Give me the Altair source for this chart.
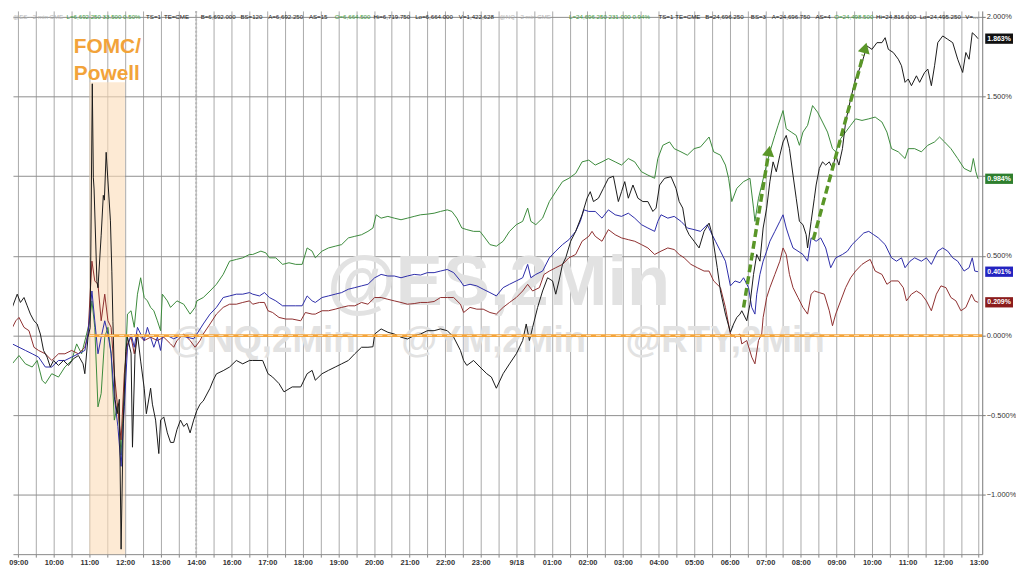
import json
import math
import altair as alt
import pandas as pd

W, H = 976, 547
X_DOMAIN = [-0.15, 27.10]
Y_DOMAIN = [-1.371, 2.037]

TIME_LABELS = ["09:00", "10:00", "11:00", "12:00", "13:00", "14:00", "16:00", "17:00",
               "18:00", "19:00", "20:00", "21:00", "22:00", "23:00", "9/18", "01:00",
               "02:00", "03:00", "04:00", "05:00", "06:00", "07:00", "08:00", "09:00",
               "10:00", "11:00", "12:00", "13:00"]
Y_TICKS = [-1.0, -0.5, 0.0, 0.5, 1.0, 1.5, 2.0]

# (session hour index, % change)
BLACK = [(-0.35, 0.135), (-0.26, 0.208), (-0.17, 0.177), (-0.03, 0.26), (0.06, 0.208), (0.16, 0.239),
         (0.25, 0.187), (0.34, 0.135), (0.44, 0.093), (0.53, 0.073), (0.62, 0.010), (0.71, -0.093),
         (0.81, -0.135), (0.90, -0.197), (0.99, -0.156), (1.13, -0.187), (1.27, -0.156), (1.41, -0.187),
         (1.55, -0.145), (1.69, -0.125), (1.82, -0.177), (1.87, -0.239), (1.96, -0.010),
         (2.02, 0.05), (2.08, 1.58), (2.11, 0.99), (2.13, 0.92), (2.21, 0.34), (2.24, 0.30), (2.33, 0.63),
         (2.39, 0.88), (2.42, 0.85), (2.47, 1.15), (2.52, 0.97), (2.59, 0.72), (2.63, 0.40), (2.66, 0.09),
         (2.72, -0.40), (2.78, -0.49), (2.84, -0.40), (2.89, -1.34), (2.95, -0.55), (3.02, -0.10),
         (3.07, -0.01), (3.17, -0.11), (3.21, -0.70), (3.28, -0.12), (3.35, 0.01), (3.44, -0.16),
         (3.54, -0.33), (3.60, -0.49), (3.72, -0.33), (3.77, -0.43), (3.86, -0.53), (3.95, -0.74),
         (4.00, -0.53), (4.09, -0.51), (4.19, -0.61), (4.28, -0.67), (4.37, -0.67), (4.46, -0.59),
         (4.56, -0.53), (4.65, -0.57), (4.74, -0.55), (4.83, -0.61), (4.93, -0.53), (5.02, -0.47),
         (5.11, -0.43), (5.20, -0.41), (5.39, -0.33), (5.48, -0.28), (5.57, -0.24), (5.76, -0.22),
         (5.94, -0.197), (6.13, -0.156), (6.31, -0.177), (6.50, -0.156), (6.59, -0.156), (6.87, -0.156),
         (7.02, -0.239), (7.15, -0.26), (7.33, -0.301), (7.47, -0.353), (7.70, -0.322), (7.94, -0.322),
         (8.12, -0.239), (8.26, -0.218), (8.35, -0.280), (8.54, -0.239), (8.72, -0.218), (8.91, -0.197),
         (9.09, -0.177), (9.28, -0.156), (9.46, -0.114), (9.65, -0.073), (9.83, -0.073), (9.97, -0.07),
         (10.02, 0.01), (10.20, 0.042), (10.39, 0.021), (10.57, 0.01), (10.76, -0.01), (10.94, -0.021),
         (11.13, 0.0), (11.31, 0.01), (11.50, 0.031), (11.69, 0.031), (11.87, 0.042), (12.06, 0.031),
         (12.24, -0.01), (12.43, -0.093), (12.52, -0.156), (12.61, -0.187), (12.80, -0.156),
         (12.98, -0.197), (13.17, -0.239), (13.30, -0.26), (13.44, -0.33), (13.63, -0.239),
         (13.81, -0.177), (14.00, -0.114), (14.18, -0.031), (14.28, 0.073), (14.37, -0.031),
         (14.46, 0.052), (14.60, 0.177), (14.74, 0.28), (14.88, 0.363), (15.02, 0.343), (15.11, 0.26),
         (15.20, 0.343), (15.30, 0.447), (15.39, 0.488), (15.53, 0.592), (15.67, 0.654), (15.85, 0.758),
         (15.99, 0.862), (16.08, 0.903), (16.17, 0.841), (16.31, 0.862), (16.45, 0.924), (16.59, 0.987),
         (16.73, 1.0), (16.87, 0.841), (16.96, 0.903), (17.05, 0.966), (17.15, 0.862), (17.28, 0.945),
         (17.42, 0.862), (17.56, 0.841), (17.70, 0.841), (17.84, 0.779), (17.93, 0.800), (18.03, 0.945),
         (18.17, 0.987), (18.35, 0.997), (18.49, 0.924), (18.58, 0.841), (18.68, 0.800), (18.77, 0.675),
         (18.86, 0.633), (19.00, 0.592), (19.14, 0.550), (19.28, 0.654), (19.42, 0.706), (19.51, 0.633),
         (19.65, 0.426), (19.74, 0.280), (19.88, 0.135), (20.02, 0.021), (20.11, 0.073), (20.20, 0.114),
         (20.29, 0.135), (20.34, 0.156), (20.48, 0.093), (20.57, 0.197), (20.67, 0.384), (20.76, 0.509),
         (20.85, 0.467), (20.94, 0.675), (21.04, 0.800), (21.13, 0.966), (21.22, 1.090), (21.31, 1.028),
         (21.41, 1.132), (21.50, 1.215), (21.59, 1.256), (21.68, 1.173), (21.78, 1.007), (21.87, 0.862),
         (21.96, 0.717), (22.06, 0.696), (22.15, 0.633), (22.19, 0.550), (22.29, 0.717), (22.38, 0.862),
         (22.43, 0.945), (22.52, 1.049), (22.61, 1.090), (22.70, 1.070), (22.80, 1.090), (22.89, 1.049),
         (22.98, 1.132), (23.07, 1.070), (23.17, 1.173), (23.26, 1.340), (23.40, 1.485), (23.54, 1.610),
         (23.72, 1.713), (23.86, 1.817), (24.00, 1.796), (24.14, 1.838), (24.28, 1.838), (24.37, 1.869),
         (24.46, 1.796), (24.60, 1.776), (24.74, 1.734), (24.83, 1.693), (24.93, 1.589), (25.02, 1.610),
         (25.11, 1.568), (25.25, 1.630), (25.34, 1.589), (25.48, 1.651), (25.57, 1.672), (25.67, 1.568),
         (25.76, 1.693), (25.85, 1.838), (25.99, 1.880), (26.13, 1.859), (26.27, 1.838), (26.41, 1.734),
         (26.55, 1.651), (26.64, 1.776), (26.73, 1.734), (26.82, 1.900), (26.92, 1.880), (26.98, 1.863)]

GREEN = [(-0.35, -0.135), (-0.17, -0.177), (0.02, -0.125), (0.20, -0.177), (0.39, -0.197), (0.53, -0.156),
         (0.67, -0.28), (0.76, -0.301), (0.94, -0.239), (1.13, -0.26), (1.31, -0.197), (1.50, -0.156),
         (1.64, -0.052), (1.78, -0.114), (1.92, 0.01), (2.01, 0.093), (2.07, 0.218), (2.15, 0.052),
         (2.24, -0.447), (2.33, -0.363), (2.43, -0.01), (2.52, 0.052), (2.61, -0.114), (2.70, -0.53),
         (2.80, -0.426), (2.89, -0.75), (2.98, -0.322), (3.07, 0.135), (3.17, 0.156), (3.26, 0.052),
         (3.35, 0.26), (3.44, 0.363), (3.54, 0.239), (3.63, 0.218), (3.72, 0.177), (3.81, 0.156),
         (3.91, 0.093), (4.00, 0.031), (4.05, 0.26), (4.19, 0.218), (4.28, 0.177), (4.46, 0.218),
         (4.65, 0.197), (4.83, 0.135), (4.97, 0.177), (5.02, 0.218), (5.20, 0.239), (5.39, 0.28),
         (5.57, 0.322), (5.76, 0.384), (5.94, 0.467), (6.13, 0.478), (6.31, 0.488), (6.50, 0.509),
         (6.59, 0.509), (6.82, 0.530), (6.96, 0.519), (7.06, 0.488), (7.24, 0.488), (7.43, 0.447),
         (7.61, 0.457), (7.80, 0.447), (7.98, 0.447), (8.12, 0.55), (8.26, 0.53), (8.35, 0.488),
         (8.54, 0.53), (8.72, 0.55), (8.91, 0.561), (9.09, 0.571), (9.28, 0.613), (9.46, 0.623),
         (9.65, 0.633), (9.83, 0.654), (9.97, 0.675), (10.06, 0.758), (10.20, 0.737), (10.39, 0.748),
         (10.57, 0.737), (10.76, 0.727), (10.94, 0.737), (11.13, 0.748), (11.31, 0.758), (11.50, 0.762),
         (11.69, 0.768), (11.87, 0.779), (12.06, 0.789), (12.19, 0.779), (12.33, 0.737), (12.47, 0.675),
         (12.61, 0.665), (12.80, 0.654), (12.98, 0.654), (13.12, 0.613), (13.26, 0.571), (13.44, 0.561),
         (13.63, 0.592), (13.81, 0.654), (14.00, 0.696), (14.18, 0.717), (14.32, 0.800), (14.41, 0.717),
         (14.55, 0.696), (14.74, 0.737), (14.93, 0.841), (15.11, 0.903), (15.30, 0.966), (15.48, 0.987),
         (15.67, 1.018), (15.85, 1.090), (16.04, 1.101), (16.22, 1.070), (16.41, 1.090), (16.59, 1.111),
         (16.78, 1.090), (16.96, 1.070), (17.15, 1.111), (17.33, 1.090), (17.52, 1.028), (17.70, 1.007),
         (17.89, 0.987), (17.98, 1.111), (18.12, 1.194), (18.31, 1.215), (18.44, 1.173), (18.63, 1.153),
         (18.81, 1.132), (19.00, 1.173), (19.18, 1.184), (19.42, 1.246), (19.55, 1.153), (19.74, 1.132),
         (19.88, 1.070), (19.97, 0.987), (20.06, 0.841), (20.20, 0.924), (20.39, 0.966), (20.57, 0.987),
         (20.67, 0.80), (20.71, 0.717), (20.81, 0.862), (20.90, 0.945), (20.99, 1.028), (21.13, 1.153),
         (21.27, 1.256), (21.36, 1.319), (21.50, 1.412), (21.59, 1.298), (21.73, 1.277), (21.87, 1.256),
         (21.96, 1.194), (22.06, 1.277), (22.19, 1.319), (22.33, 1.443), (22.47, 1.402), (22.61, 1.340),
         (22.75, 1.277), (22.89, 1.173), (22.98, 1.153), (23.12, 1.236), (23.26, 1.277), (23.40, 1.319),
         (23.54, 1.360), (23.72, 1.350), (23.91, 1.360), (24.09, 1.371), (24.28, 1.340), (24.42, 1.277),
         (24.55, 1.173), (24.74, 1.153), (24.93, 1.111), (25.02, 1.173), (25.20, 1.173), (25.39, 1.153),
         (25.57, 1.194), (25.76, 1.215), (25.90, 1.246), (26.04, 1.215), (26.22, 1.173), (26.41, 1.111),
         (26.59, 1.049), (26.78, 1.028), (26.85, 1.111), (26.92, 1.028), (26.98, 0.984)]

BLUE = [(-0.35, -0.073), (-0.17, -0.052), (0.02, -0.073), (0.20, -0.093), (0.39, -0.114), (0.57, -0.135),
        (0.76, -0.197), (0.94, -0.197), (1.13, -0.156), (1.31, -0.156), (1.50, -0.135), (1.69, -0.114),
        (1.87, -0.093), (1.96, 0.01), (2.07, 0.28), (2.15, 0.093), (2.24, -0.114), (2.33, -0.01),
        (2.43, 0.093), (2.52, 0.01), (2.61, -0.114), (2.70, -0.384), (2.80, -0.571), (2.89, -0.820),
        (2.98, -0.447), (3.07, -0.073), (3.17, 0.01), (3.26, -0.073), (3.35, 0.052), (3.44, 0.01),
        (3.54, -0.031), (3.63, 0.052), (3.72, -0.01), (3.81, -0.073), (3.91, -0.01), (4.00, -0.093),
        (4.05, -0.01), (4.19, 0.0), (4.37, -0.02), (4.56, 0.0), (4.74, -0.01), (4.93, -0.02), (5.02, 0.01),
        (5.20, 0.073), (5.39, 0.135), (5.57, 0.177), (5.76, 0.239), (5.94, 0.249), (6.13, 0.26),
        (6.31, 0.26), (6.50, 0.27), (6.59, 0.26), (6.78, 0.249), (6.92, 0.27), (7.06, 0.239), (7.24, 0.218),
        (7.43, 0.187), (7.61, 0.187), (7.80, 0.187), (7.98, 0.187), (8.12, 0.249), (8.26, 0.218),
        (8.35, 0.208), (8.54, 0.239), (8.72, 0.249), (8.91, 0.26), (9.09, 0.27), (9.28, 0.291),
        (9.46, 0.301), (9.65, 0.312), (9.83, 0.322), (10.02, 0.363), (10.20, 0.384), (10.39, 0.374),
        (10.57, 0.374), (10.76, 0.363), (10.94, 0.374), (11.13, 0.384), (11.31, 0.38), (11.50, 0.395),
        (11.69, 0.395), (11.87, 0.405), (12.06, 0.415), (12.24, 0.395), (12.43, 0.343), (12.52, 0.312),
        (12.70, 0.322), (12.89, 0.312), (13.07, 0.291), (13.26, 0.27), (13.44, 0.249), (13.63, 0.301),
        (13.81, 0.322), (14.00, 0.343), (14.18, 0.363), (14.32, 0.447), (14.41, 0.363), (14.55, 0.384),
        (14.74, 0.405), (14.93, 0.488), (15.11, 0.53), (15.30, 0.571), (15.48, 0.602), (15.67, 0.654),
        (15.80, 0.717), (15.90, 0.789), (16.04, 0.779), (16.22, 0.779), (16.41, 0.737), (16.59, 0.789),
        (16.78, 0.758), (16.96, 0.748), (17.15, 0.768), (17.33, 0.737), (17.52, 0.696), (17.70, 0.675),
        (17.89, 0.654), (17.98, 0.717), (18.07, 0.758), (18.26, 0.737), (18.44, 0.748), (18.63, 0.717),
        (18.81, 0.675), (19.00, 0.665), (19.18, 0.654), (19.37, 0.696), (19.46, 0.654), (19.60, 0.592),
        (19.74, 0.53), (19.88, 0.467), (20.02, 0.312), (20.15, 0.343), (20.29, 0.332), (20.39, 0.363),
        (20.53, 0.301), (20.62, 0.177), (20.71, 0.135), (20.76, 0.26), (20.85, 0.384), (20.94, 0.467),
        (21.04, 0.53), (21.13, 0.592), (21.27, 0.654), (21.41, 0.717), (21.50, 0.758), (21.59, 0.675),
        (21.68, 0.613), (21.78, 0.55), (21.92, 0.53), (22.06, 0.509), (22.19, 0.467), (22.29, 0.613),
        (22.43, 0.592), (22.56, 0.613), (22.70, 0.55), (22.84, 0.426), (22.98, 0.488), (23.17, 0.509),
        (23.31, 0.53), (23.44, 0.571), (23.63, 0.613), (23.77, 0.644), (23.91, 0.654), (24.05, 0.633),
        (24.18, 0.613), (24.37, 0.571), (24.55, 0.488), (24.69, 0.467), (24.83, 0.488), (24.93, 0.426),
        (25.07, 0.467), (25.20, 0.488), (25.39, 0.467), (25.53, 0.488), (25.67, 0.447), (25.85, 0.53),
        (25.99, 0.55), (26.13, 0.53), (26.27, 0.488), (26.41, 0.467), (26.59, 0.405), (26.73, 0.426),
        (26.82, 0.488), (26.89, 0.405), (26.98, 0.401)]

RED = [(-0.35, 0.093), (-0.21, 0.031), (-0.07, 0.093), (0.02, 0.114), (0.16, 0.052), (0.30, 0.031),
       (0.44, -0.073), (0.57, -0.093), (0.76, -0.114), (0.94, -0.156), (1.13, -0.114), (1.31, -0.114),
       (1.50, -0.093), (1.69, -0.114), (1.87, -0.073), (1.96, 0.01), (2.07, 0.467), (2.15, 0.343),
       (2.24, 0.322), (2.33, 0.093), (2.43, 0.26), (2.52, 0.093), (2.61, 0.052), (2.70, -0.239),
       (2.80, -0.467), (2.89, -0.654), (2.98, -0.239), (3.07, -0.052), (3.17, -0.01), (3.26, -0.114),
       (3.35, 0.01), (3.54, -0.031), (3.72, -0.01), (3.91, -0.031), (4.09, -0.01), (4.28, -0.052),
       (4.37, -0.073), (4.46, -0.031), (4.65, 0.01), (4.83, -0.031), (4.97, -0.073), (5.11, -0.031),
       (5.20, 0.01), (5.39, 0.073), (5.57, 0.135), (5.76, 0.177), (5.94, 0.197), (6.13, 0.197),
       (6.31, 0.208), (6.50, 0.218), (6.59, 0.197), (6.78, 0.208), (6.92, 0.208), (7.02, 0.156),
       (7.15, 0.145), (7.33, 0.114), (7.52, 0.104), (7.70, 0.104), (7.94, 0.093), (8.07, 0.145),
       (8.26, 0.135), (8.35, 0.135), (8.54, 0.156), (8.72, 0.156), (8.91, 0.166), (9.09, 0.177),
       (9.28, 0.187), (9.46, 0.187), (9.65, 0.208), (9.83, 0.197), (10.02, 0.239), (10.20, 0.239),
       (10.39, 0.228), (10.57, 0.218), (10.76, 0.208), (10.94, 0.197), (11.13, 0.201), (11.31, 0.208),
       (11.50, 0.208), (11.69, 0.214), (11.87, 0.239), (12.06, 0.239), (12.24, 0.239), (12.43, 0.197),
       (12.52, 0.145), (12.70, 0.177), (12.89, 0.166), (13.07, 0.166), (13.26, 0.145), (13.44, 0.135),
       (13.63, 0.177), (13.81, 0.208), (14.00, 0.239), (14.18, 0.28), (14.32, 0.322), (14.46, 0.28),
       (14.65, 0.301), (14.78, 0.384), (14.93, 0.405), (15.11, 0.426), (15.30, 0.447), (15.48, 0.488),
       (15.67, 0.509), (15.85, 0.592), (16.04, 0.623), (16.13, 0.654), (16.22, 0.623), (16.41, 0.592),
       (16.59, 0.665), (16.78, 0.633), (16.96, 0.613), (17.15, 0.602), (17.33, 0.592), (17.52, 0.571),
       (17.70, 0.55), (17.89, 0.509), (18.07, 0.53), (18.26, 0.55), (18.44, 0.54), (18.58, 0.509),
       (18.72, 0.488), (18.91, 0.447), (19.09, 0.426), (19.28, 0.405), (19.42, 0.405), (19.55, 0.343),
       (19.74, 0.301), (19.88, 0.177), (20.02, 0.01), (20.15, -0.01), (20.29, 0.01), (20.34, -0.052),
       (20.48, -0.031), (20.62, -0.135), (20.71, -0.177), (20.81, -0.031), (20.90, 0.01), (20.94, 0.114),
       (21.04, 0.239), (21.13, 0.301), (21.27, 0.384), (21.41, 0.467), (21.50, 0.55), (21.59, 0.509),
       (21.68, 0.384), (21.78, 0.301), (21.92, 0.239), (22.06, 0.177), (22.19, 0.135), (22.29, 0.26),
       (22.38, 0.28), (22.52, 0.27), (22.66, 0.26), (22.80, 0.156), (22.89, 0.062), (22.98, 0.135),
       (23.12, 0.218), (23.26, 0.301), (23.40, 0.363), (23.54, 0.405), (23.72, 0.447), (23.86, 0.467),
       (23.95, 0.478), (24.09, 0.405), (24.28, 0.384), (24.42, 0.322), (24.55, 0.343), (24.74, 0.343),
       (24.88, 0.301), (24.97, 0.218), (25.11, 0.26), (25.25, 0.28), (25.39, 0.26), (25.53, 0.218),
       (25.67, 0.156), (25.81, 0.26), (25.94, 0.312), (26.08, 0.301), (26.22, 0.239), (26.36, 0.218),
       (26.50, 0.156), (26.64, 0.177), (26.80, 0.26), (26.89, 0.218), (26.98, 0.209)]

SERIES_NAMES = ["RTY", "YM", "ES", "NQ"]
SERIES_DATA = [GREEN, RED, BLUE, BLACK]
LINE_COLORS = ["#3b8a3b", "#8e2f2f", "#2c2ca8", "#1a1a1a"]
BOX_COLORS = ["#2e7f2e", "#8b1c1c", "#2323c0", "#111111"]
LAST_VALUES = [0.984, 0.209, 0.401, 1.863]

FOMC_WINDOW = (2.0, 3.0)
SESSION_BREAK = 5.0
ARROWS = [((20.39, 0.176), (21.13, 1.194)), ((22.35, 0.602), (23.86, 1.849))]

HEADER = [("@ES - 2 min CME", 0, "#b4b4b4"), ("L=6,692.250  33.500  0.50%", 54, "#3c9a3c"),
          ("TS=1", 134, "#222"), ("TE=CME", 152, "#222"), ("B=6,692.000", 189, "#222"),
          ("BS=120", 229, "#222"), ("A=6,692.250", 257, "#222"), ("AS=15", 298, "#222"),
          ("O=6,664.500", 324, "#3c9a3c"), ("Hi=6,719.750", 363, "#222"), ("Lo=6,664.000", 405, "#222"),
          ("V=1,422,628", 449, "#222"), ("@NQ - 2 min CME", 490, "#b4b4b4"),
          ("L=24,696.250  231.000  0.94%", 560, "#3c9a3c"), ("TS=1", 650, "#222"), ("TE=CME", 667, "#222"),
          ("B=24,696.250", 697, "#222"), ("BS=3", 743, "#222"), ("A=24,696.750", 764, "#222"),
          ("AS=4", 808, "#222"), ("O=24,498.500", 827, "#3c9a3c"), ("Hi=24,816.000", 869, "#222"),
          ("Lo=24,495.250", 913, "#222"), ("V=...", 959, "#222")]

FONT = "Liberation Sans"
DUMMY = pd.DataFrame({"k": [0]})

label_js = json.dumps(TIME_LABELS)
x_enc = alt.X("t:Q", title=None,
              scale=alt.Scale(domain=X_DOMAIN, nice=False, zero=False),
              axis=alt.Axis(values=[i / 2 for i in range(55)],
                            labelExpr=f"datum.value % 1 == 0 ? {label_js}[datum.value] : ''",
                            grid=True, gridColor="#a9a9a9", gridWidth=1,
                            tickSize=3, tickColor="#888", domainColor="#888",
                            labelFont=FONT, labelFontSize=7.5, labelFontWeight="bold",
                            labelColor="#333", labelPadding=1, labelOverlap=False))
# the 1.000% label sits under the 0.984% value box in the reference
y_enc = alt.Y("v:Q", title=None,
              scale=alt.Scale(domain=Y_DOMAIN, nice=False, zero=False),
              axis=alt.Axis(orient="right", values=Y_TICKS,
                            labelExpr="datum.value == 1 ? '' : format(datum.value, '.3f') + '%'",
                            grid=True, gridColor="#8e8e8e", gridWidth=1,
                            tickSize=3, tickColor="#777", domainColor="#777",
                            labelFont=FONT, labelFontSize=7.5, labelColor="#333",
                            labelPadding=1))


def ptext(txt, px, py, **kw):
    return alt.Chart(DUMMY).mark_text(font=FONT, **kw).encode(
        x=alt.value(px), y=alt.value(py), text=alt.value(txt))


layers = []

# FOMC shading
shade_df = pd.DataFrame({"t": [FOMC_WINDOW[0]], "t2": [FOMC_WINDOW[1]],
                         "v": [Y_DOMAIN[0]], "v2": [1.59]})
layers.append(alt.Chart(shade_df).mark_rect(color="#fcdcb8", opacity=0.6).encode(
    x=x_enc, x2="t2", y=y_enc, y2="v2"))

# watermarks
WM = "#e2e2e2"
layers.append(ptext("@ES,2Min", 489, 275, fontSize=71, fontWeight="bold", color=WM, align="center"))
layers.append(ptext("@NQ,2Min", 252, 332, fontSize=37, fontWeight="bold", color=WM, align="center"))
layers.append(ptext("@YM,2Min", 484, 332, fontSize=37, fontWeight="bold", color=WM, align="center"))
layers.append(ptext("@RTY,2Min", 717, 332, fontSize=37, fontWeight="bold", color=WM, align="center"))

# session break dotted line
layers.append(alt.Chart(pd.DataFrame({"t": [SESSION_BREAK]})).mark_rule(
    color="#b8b8b8", strokeWidth=2, strokeDash=[2, 2]).encode(x=x_enc))

# series lines
for name, pts, col in zip(SERIES_NAMES, SERIES_DATA, LINE_COLORS):
    df = pd.DataFrame({"t": [p[0] for p in pts], "v": [p[1] for p in pts], "series": name})
    layers.append(alt.Chart(df).mark_line(color=col, strokeWidth=1, clip=True).encode(
        x=x_enc, y=y_enc, order="t:Q"))

# zero line (orange, dashed)
zero_df = pd.DataFrame({"t": [FOMC_WINDOW[0]], "t2": [X_DOMAIN[1]], "v": [0.0]})
layers.append(alt.Chart(zero_df).mark_rule(color="#f4a43a", strokeWidth=3).encode(
    x=x_enc, x2="t2", y=y_enc))
layers.append(alt.Chart(zero_df).mark_rule(color="#fbe3c0", strokeWidth=1, strokeDash=[5, 5]).encode(
    x=x_enc, x2="t2", y=y_enc))

# arrows
px_x = W / (X_DOMAIN[1] - X_DOMAIN[0])
px_y = H / (Y_DOMAIN[1] - Y_DOMAIN[0])
rows, heads = [], []
for (t0, v0), (t1, v1) in ARROWS:
    dx, dy = (t1 - t0) * px_x, (v1 - v0) * px_y
    ang = math.degrees(math.atan2(dx, dy))
    f = 0.93
    rows.append({"t": t0, "v": v0, "t2": t0 + (t1 - t0) * f, "v2": v0 + (v1 - v0) * f})
    g = 0.965
    heads.append({"t": t0 + (t1 - t0) * g, "v": v0 + (v1 - v0) * g, "ang": ang})
ARROW_COLOR = "#5a9628"
layers.append(alt.Chart(pd.DataFrame(rows)).mark_rule(
    color=ARROW_COLOR, strokeWidth=3.5, strokeDash=[8, 4]).encode(
    x=x_enc, x2="t2", y=y_enc, y2="v2"))
layers.append(alt.Chart(pd.DataFrame(heads)).mark_point(
    shape="triangle-up", filled=True, size=150, color=ARROW_COLOR, opacity=1).encode(
    x=x_enc, y=y_enc, angle=alt.Angle("ang:Q", scale=None)))

# FOMC label
fomc_df = pd.DataFrame({"t": [1.56], "v": [1.88], "txt": ["FOMC/\nPowell"]})
layers.append(alt.Chart(fomc_df).mark_text(
    font=FONT, fontSize=21, fontWeight="bold", color="#f2a33a", align="left", baseline="top",
    lineBreak="\n", lineHeight=27).encode(x=x_enc, y=y_enc, text="txt:N"))

# header
for txt, px, col in HEADER:
    layers.append(ptext(txt, px, 6, fontSize=6.2, color=col, align="left"))

# last value boxes
box_df = pd.DataFrame({"v": LAST_VALUES, "series": SERIES_NAMES,
                       "lbl": [f"{v:.3f}%" for v in LAST_VALUES]})
BOX_PATH = "M-1,-0.37L1,-0.37L1,0.37L-1,0.37Z"
layers.append(alt.Chart(box_df).mark_point(shape=BOX_PATH, filled=True, size=784, opacity=1).encode(
    x=alt.value(W + 17), y=y_enc,
    color=alt.Color("series:N", scale=alt.Scale(domain=SERIES_NAMES, range=BOX_COLORS), legend=None)))
layers.append(alt.Chart(box_df).mark_text(font=FONT, fontSize=7, fontWeight="bold", color="white",
                                          align="center", baseline="middle").encode(
    x=alt.value(W + 17), y=y_enc, text="lbl:N"))

chart = alt.layer(*layers).properties(
    width=W, height=H, padding=0, background="white"
).configure_view(strokeWidth=0)

chart.save("out.html", embed_options={"renderer": "svg", "actions": False})
